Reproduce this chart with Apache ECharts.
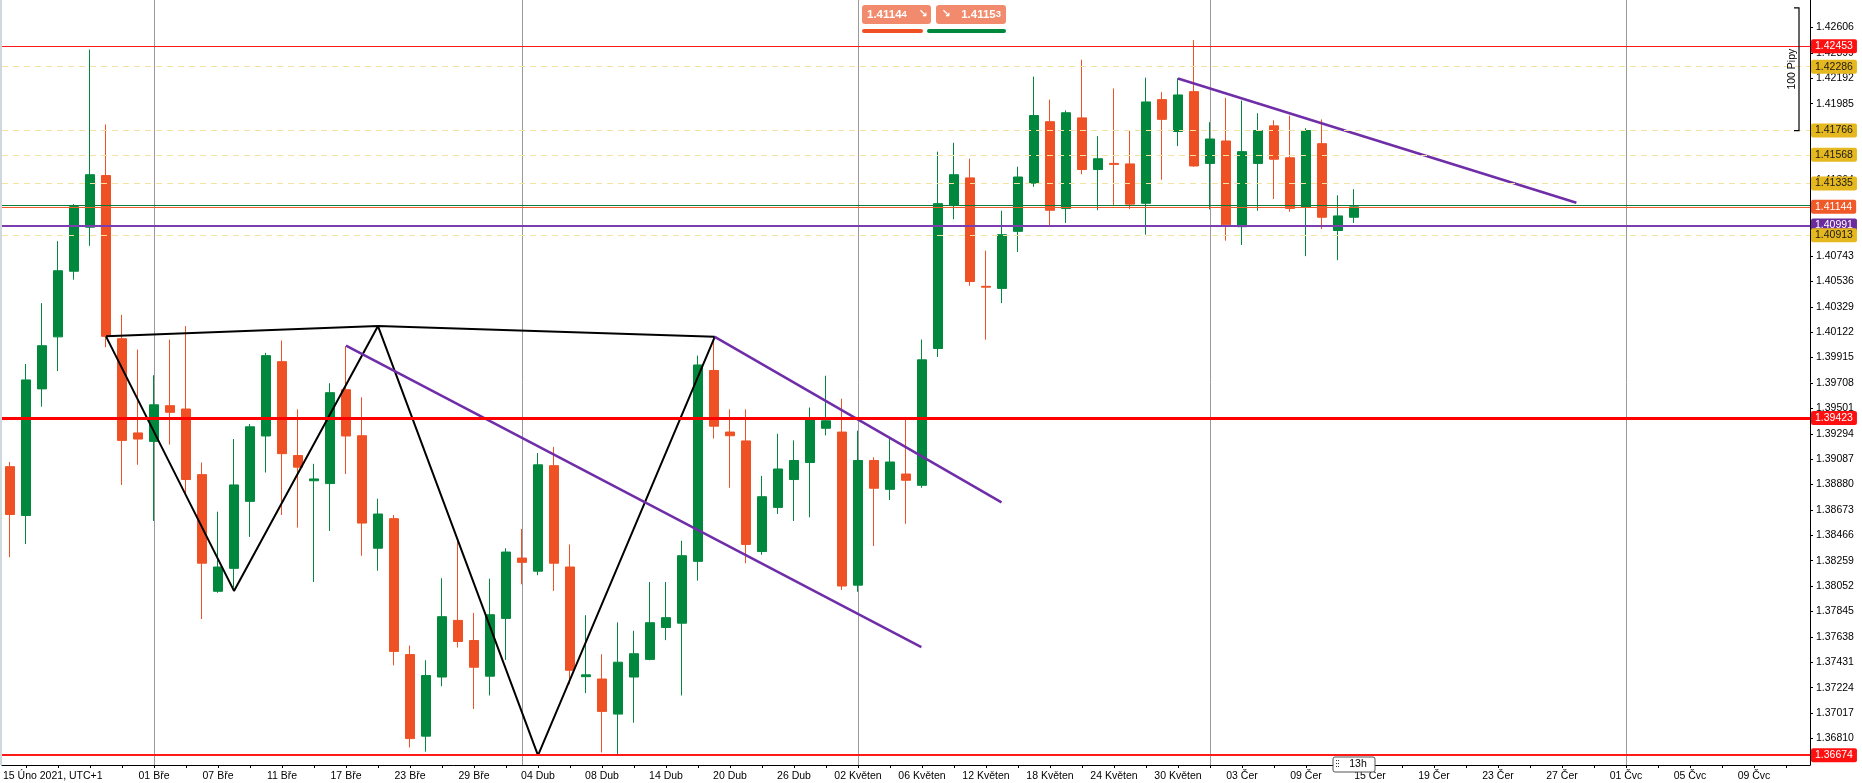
<!DOCTYPE html>
<html><head><meta charset="utf-8">
<script src="https://cdn.jsdelivr.net/npm/echarts@6/dist/echarts.min.js"></script>
<style>html,body{margin:0;padding:0;background:#fff}#c{width:1862px;height:783px}</style>
</head><body><div id="c"></div>
<script>
// ---- candle data (daily) ----
const candleOpen = [1.39026,1.38628,1.39660,1.40084,1.40619,1.40978,1.41399,1.40069,1.39301,1.39232,
1.39523,1.39496,1.38961,1.38010,1.38197,1.38743,1.39276,1.39882,1.39117,1.38911,
1.38888,1.39653,1.39278,1.38361,1.38602,1.37494,1.36829,1.37311,1.37773,1.37609,
1.37318,1.37789,1.38281,1.38174,1.39034,1.38208,1.37314,1.37295,1.37009,1.37311,
1.37455,1.37715,1.37750,1.38254,1.39810,1.39308,1.39236,1.38334,1.38694,1.38921,
1.39060,1.39339,1.39308,1.38060,1.39076,1.38841,1.38966,1.38874,1.39989,1.41154,
1.41380,1.40496,1.40479,1.40944,1.41337,1.41838,1.41131,1.41869,1.41448,1.41498,
1.41494,1.41173,1.42018,1.41758,1.42083,1.41498,1.41681,1.40982,1.41498,1.41804,
1.41544,1.41143,1.41659,1.40951,1.41059];
const candleClose = [1.38636,1.39733,1.40012,1.40623,1.41146,1.41406,1.40088,1.39240,1.39251,1.39530,
1.39469,1.38921,1.38239,1.38208,1.38877,1.39351,1.39931,1.39132,1.39022,1.38926,
1.39629,1.39276,1.38566,1.38640,1.37520,1.36809,1.37323,1.37803,1.37601,1.37391,
1.37819,1.38330,1.38246,1.39041,1.38239,1.37366,1.37329,1.37031,1.37432,1.37501,
1.37754,1.37795,1.38300,1.39855,1.39356,1.39278,1.38392,1.38781,1.39007,1.39076,
1.39420,1.39400,1.38053,1.39076,1.38850,1.39064,1.38915,1.39897,1.41170,1.41406,
1.40535,1.40489,1.40917,1.41387,1.41888,1.41116,1.41911,1.41448,1.41536,1.41490,
1.41166,1.41999,1.41857,1.42056,1.41477,1.41697,1.40997,1.41594,1.41766,1.41532,
1.41131,1.41766,1.41059,1.41070,1.41144];
const candleLow = [1.38288,1.38395,1.39515,1.39805,1.40550,1.40826,1.40000,1.38877,1.39041,1.38583,
1.39206,1.38804,1.37784,1.37998,1.38040,1.38453,1.38978,1.38632,1.38529,1.38086,
1.38502,1.38966,1.38300,1.38178,1.37406,1.36737,1.36703,1.37236,1.37551,1.37051,
1.37161,1.37451,1.38067,1.38141,1.38013,1.37253,1.37180,1.36696,1.36672,1.36939,
1.37448,1.37612,1.37161,1.38097,1.39255,1.38854,1.38239,1.38308,1.38640,1.38583,
1.38613,1.39281,1.38021,1.38006,1.38379,1.38754,1.38560,1.38854,1.39920,1.41043,
1.40501,1.40061,1.40359,1.40776,1.41307,1.40990,1.41013,1.41410,1.41116,1.41154,
1.41127,1.40917,1.41364,1.41639,1.41471,1.41123,1.40868,1.40833,1.41112,1.41208,
1.41104,1.40742,1.40963,1.40709,1.41013];
const candleHigh = [1.39064,1.39863,1.40359,1.40864,1.41166,1.42426,1.41815,1.40264,1.39981,1.39771,
1.40062,1.40172,1.39060,1.38659,1.39251,1.39373,1.39954,1.40054,1.39493,1.39049,
1.39706,1.40008,1.39591,1.38765,1.38632,1.37568,1.37448,1.38116,1.38422,1.37834,
1.38113,1.38361,1.38518,1.39137,1.39187,1.38392,1.37815,1.37497,1.37757,1.37688,
1.38086,1.38086,1.38422,1.39931,1.40084,1.39493,1.39493,1.38951,1.39294,1.39240,
1.39508,1.39767,1.39580,1.39319,1.39102,1.39255,1.39408,1.40062,1.41594,1.41666,
1.41536,1.40787,1.41113,1.41471,1.42205,1.42018,1.41930,1.42343,1.41720,1.42109,
1.41766,1.42197,1.42079,1.42193,1.42503,1.41834,1.42033,1.42010,1.41907,1.41850,
1.41888,1.41785,1.41857,1.41238,1.41288];

// ---- axes ----
const slotCount = 113;
const firstLabel = '15 Úno 2021, UTC+1';
const xLabelSlot = [9,13,17,21,25,29,33,37,41,45,49,53,57,61,65,69,73,77,81,85,89,93,97,101,105,109];
const xLabelText = ['01 Bře','07 Bře','11 Bře','17 Bře','23 Bře','29 Bře','04 Dub','08 Dub','14 Dub','20 Dub','26 Dub',
  '02 Květen','06 Květen','12 Květen','18 Květen','24 Květen','30 Květen','03 Čer','09 Čer','15 Čer','19 Čer','23 Čer',
  '27 Čer','01 Čvc','05 Čvc','09 Čvc'];
const monthLineSlot = [9, 32, 53, 75, 101];
const yTicks = [1.36810,1.37017,1.37224,1.37431,1.37638,1.37845,1.38052,1.38259,1.38466,1.38673,1.38880,
  1.39087,1.39294,1.39501,1.39708,1.39915,1.40122,1.40329,1.40536,1.40743,1.40950,1.41157,1.41364,1.41571,
  1.41778,1.41985,1.42192,1.42399,1.42606];
const yMin = 1.36594, yMax = 1.42830;

// ---- horizontal levels ----
const redLevels = [1.42453, 1.39423, 1.36674];
const yellowLevels = [1.42286, 1.41766, 1.41568, 1.41335, 1.40913];
const purpleLevel = 1.40991;
const bidPrice = 1.41144, askPrice = 1.41153;
const pipRangeTop = 1.42766, pipRangeBottom = 1.41766;
const countdownText = '13h';

// ---- drawings ----
const zigzagX = [6, 14, 23, 33, 44.05];
const zigzagY = [1.40088, 1.38013, 1.40172, 1.36672, 1.40084];
const topLineX = [6, 23, 44.05];
const topLineY = [1.40088, 1.40172, 1.40084];
const channelLowX = [21, 56.96];
const channelLowY = [1.40012, 1.37555];
const channelHighX = [44.05, 61.97];
const channelHighY = [1.40084, 1.38735];
const triangleX = [73, 97.9];
const triangleY = [1.42190, 1.41177];

const FONT = 'Liberation Sans';
const GREEN = '#00883d', RED = '#ef5124';
const labelMap = {};
xLabelSlot.forEach((s, i) => labelMap[s] = xLabelText[i]);
const slots = [];
for (let i = 0; i < slotCount; i++) slots.push(String(i));
const candles = candleOpen.map((o, i) => [o, candleClose[i], candleLow[i], candleHigh[i]]);
const pts = (xs, ys) => xs.map((x, i) => [x, ys[i]]);

function badge(bg, fg) {
  return {show: true, position: 'end', distance: 1, backgroundColor: bg, color: fg,
    padding: [1, 4, 1, 4], borderRadius: 2, fontSize: 10.5, lineHeight: 12, fontFamily: FONT,
    formatter: p => Number(p.value).toFixed(5)};
}
const yellowItem = v => ({yAxis: v, lineStyle: {color: '#f3e2a2', width: 1, type: [6, 5]}, label: badge('#e6b820', '#1a1a1a')});
const levelData = [
  {yAxis: redLevels[0], lineStyle: {color: '#ff1a1a', width: 1, type: 'solid'}, label: badge('#ff1010', '#fff')},
  yellowItem(yellowLevels[0]), yellowItem(yellowLevels[1]), yellowItem(yellowLevels[2]), yellowItem(yellowLevels[3]),
  {yAxis: askPrice, lineStyle: {color: '#0b7d3b', width: 1, type: 'solid'}, label: {show: false}},
  {yAxis: bidPrice, lineStyle: {color: '#f05a28', width: 1, type: 'solid'}, label: badge('#f05a28', '#fff')},
  {yAxis: purpleLevel, lineStyle: {color: '#7b3db0', width: 2, type: 'solid'}, label: badge('#6a2c9c', '#fff')},
  yellowItem(yellowLevels[4]),
  {yAxis: redLevels[1], lineStyle: {color: '#ff0000', width: 3, type: 'solid'}, label: badge('#ff1010', '#fff')},
  {yAxis: redLevels[2], lineStyle: {color: '#ff1a1a', width: 2, type: 'solid'}, label: badge('#ff1010', '#fff')}
];

const lineSeries = (name, data, color, width) => ({
  name, type: 'line', xAxisIndex: 1, data, symbol: 'none', silent: true, z: 3,
  lineStyle: {color, width}, animation: false
});

const chart = echarts.init(document.getElementById('c'));
const option = {
  animation: false,
  backgroundColor: '#fff',
  grid: {left: 2, right: 52, top: 0, bottom: 18, containLabel: false},
  xAxis: [{
    type: 'category', data: slots, boundaryGap: true,
    axisLine: {onZero: false, lineStyle: {color: '#000', width: 1}},
    axisTick: {show: true, alignWithLabel: true, length: 3, interval: i => i % 2 === 1, lineStyle: {color: '#000'}},
    axisLabel: {interval: i => labelMap[i] !== undefined, formatter: (v, i) => labelMap[i] || '',
      color: '#000', fontSize: 10.5, fontFamily: FONT, margin: 6},
    splitLine: {show: false}
  }, {
    type: 'value', min: -0.5, max: slotCount - 0.5, show: false
  }],
  yAxis: {
    type: 'value', position: 'right', min: yMin, max: yMax, scale: true,
    axisLine: {show: true, onZero: false, lineStyle: {color: '#000', width: 1}},
    axisTick: {show: true, length: 3, customValues: yTicks, lineStyle: {color: '#000'}},
    axisLabel: {customValues: yTicks, formatter: v => v.toFixed(5), color: '#000', fontSize: 10.5, fontFamily: FONT, margin: 6},
    splitLine: {show: false}
  },
  series: [{
    type: 'candlestick', data: candles, barWidth: 10, z: 2,
    itemStyle: {color: GREEN, color0: RED, borderColor: GREEN, borderColor0: RED, borderWidth: 1},
    markLine: {silent: true, symbol: 'none', animation: false, z: 5, precision: 5, data: levelData}
  },
  Object.assign(lineSeries('months', [], '#999', 1), {
    markLine: {silent: true, symbol: 'none', animation: false, z: 1, precision: 5,
      lineStyle: {color: '#9a9a9a', width: 1, type: 'solid'}, label: {show: false},
      data: monthLineSlot.map(s => ({xAxis: s}))}
  }),
  lineSeries('zigzag', pts(zigzagX, zigzagY), '#000', 2),
  lineSeries('top', pts(topLineX, topLineY), '#000', 2),
  lineSeries('chLow', pts(channelLowX, channelLowY), '#6f2da8', 2.5),
  lineSeries('chHigh', pts(channelHighX, channelHighY), '#6f2da8', 2.5),
  lineSeries('tri', pts(triangleX, triangleY), '#6f2da8', 2.5)
  ]
};
chart.setOption(option);

// decorations placed through the chart's scales
const gridBottom = chart.convertToPixel({yAxisIndex: 0}, yMin);
const pTop = chart.convertToPixel({yAxisIndex: 0}, pipRangeTop);
const pBot = chart.convertToPixel({yAxisIndex: 0}, pipRangeBottom);
const axisX = chart.convertToPixel({xAxisIndex: 1}, slotCount - 0.5);
const lastX = chart.convertToPixel({xAxisIndex: 1}, candleOpen.length - 1);
const bx = axisX - 11;
const dots = [];
for (let r = 0; r < 3; r++) for (let c = 0; c < 2; c++)
  dots.push({type: 'rect', shape: {x: lastX - 18 + c * 2, y: gridBottom - 5 + r * 3, width: 1, height: 1}, style: {fill: '#333'}, z: 21});

chart.setOption({graphic: [
  {type: 'rect', shape: {x: 0, y: 0, width: 2, height: gridBottom}, style: {fill: '#cfd8dc'}, z: 10},
  {type: 'text', style: {text: firstLabel, x: 3, y: gridBottom + 6, font: '10.5px ' + FONT, fill: '#000', textAlign: 'left', textVerticalAlign: 'top'}, z: 10},
  // top quick-trade badges
  {type: 'rect', shape: {x: 862, y: 5, width: 69, height: 19, r: 3}, style: {fill: '#f28b6d'}, z: 10},
  {type: 'text', style: {text: '{a|1.4114}{b|4}', x: 867, y: 14.5, textVerticalAlign: 'middle', fill: '#fff',
    rich: {a: {fontSize: 11.5, fontWeight: 'bold', fontFamily: FONT, fill: '#fff', color: '#fff'}, b: {fontSize: 9.5, fontWeight: 'bold', fontFamily: FONT, color: '#fff', fill: '#fff'}}}, z: 11},
  {type: 'text', style: {text: '↘', x: 923, y: 14.5, textAlign: 'center', textVerticalAlign: 'middle', font: 'bold 11px DejaVu Sans', fill: '#fff'}, z: 11},
  {type: 'rect', shape: {x: 936, y: 5, width: 70, height: 19, r: 3}, style: {fill: '#f28b6d'}, z: 10},
  {type: 'text', style: {text: '↘', x: 946, y: 14.5, textAlign: 'center', textVerticalAlign: 'middle', font: 'bold 11px DejaVu Sans', fill: '#fff'}, z: 11},
  {type: 'text', style: {text: '{a|1.4115}{b|3}', x: 1001, y: 14.5, textAlign: 'right', textVerticalAlign: 'middle', fill: '#fff',
    rich: {a: {fontSize: 11.5, fontWeight: 'bold', fontFamily: FONT, color: '#fff', fill: '#fff'}, b: {fontSize: 9.5, fontWeight: 'bold', fontFamily: FONT, color: '#fff', fill: '#fff'}}}, z: 11},
  {type: 'rect', shape: {x: 862, y: 29, width: 61, height: 4, r: 2}, style: {fill: RED}, z: 10},
  {type: 'rect', shape: {x: 927, y: 29, width: 79, height: 4, r: 2}, style: {fill: GREEN}, z: 10},
  // 100 pips bracket
  {type: 'polyline', shape: {points: [[bx - 5, pTop], [bx, pTop], [bx, pBot], [bx - 5, pBot]]}, style: {stroke: '#000', lineWidth: 1.2, fill: null}, z: 10},
  {type: 'text', x: bx - 7, y: (pTop + pBot) / 2, rotation: Math.PI / 2,
    style: {text: '100 Pipy', textAlign: 'center', textVerticalAlign: 'middle', font: '10.5px ' + FONT, fill: '#000'}, z: 10},
  // countdown box
  {type: 'rect', shape: {x: lastX - 21, y: gridBottom - 8, width: 42, height: 15, r: 2}, style: {fill: '#fff', stroke: '#555', lineWidth: 1}, z: 20},
  {type: 'text', style: {text: countdownText, x: lastX + 4, y: gridBottom - 0.5, textAlign: 'center', textVerticalAlign: 'middle', font: '10.5px ' + FONT, fill: '#000'}, z: 21}
].concat(dots)});
</script>
</body></html>
